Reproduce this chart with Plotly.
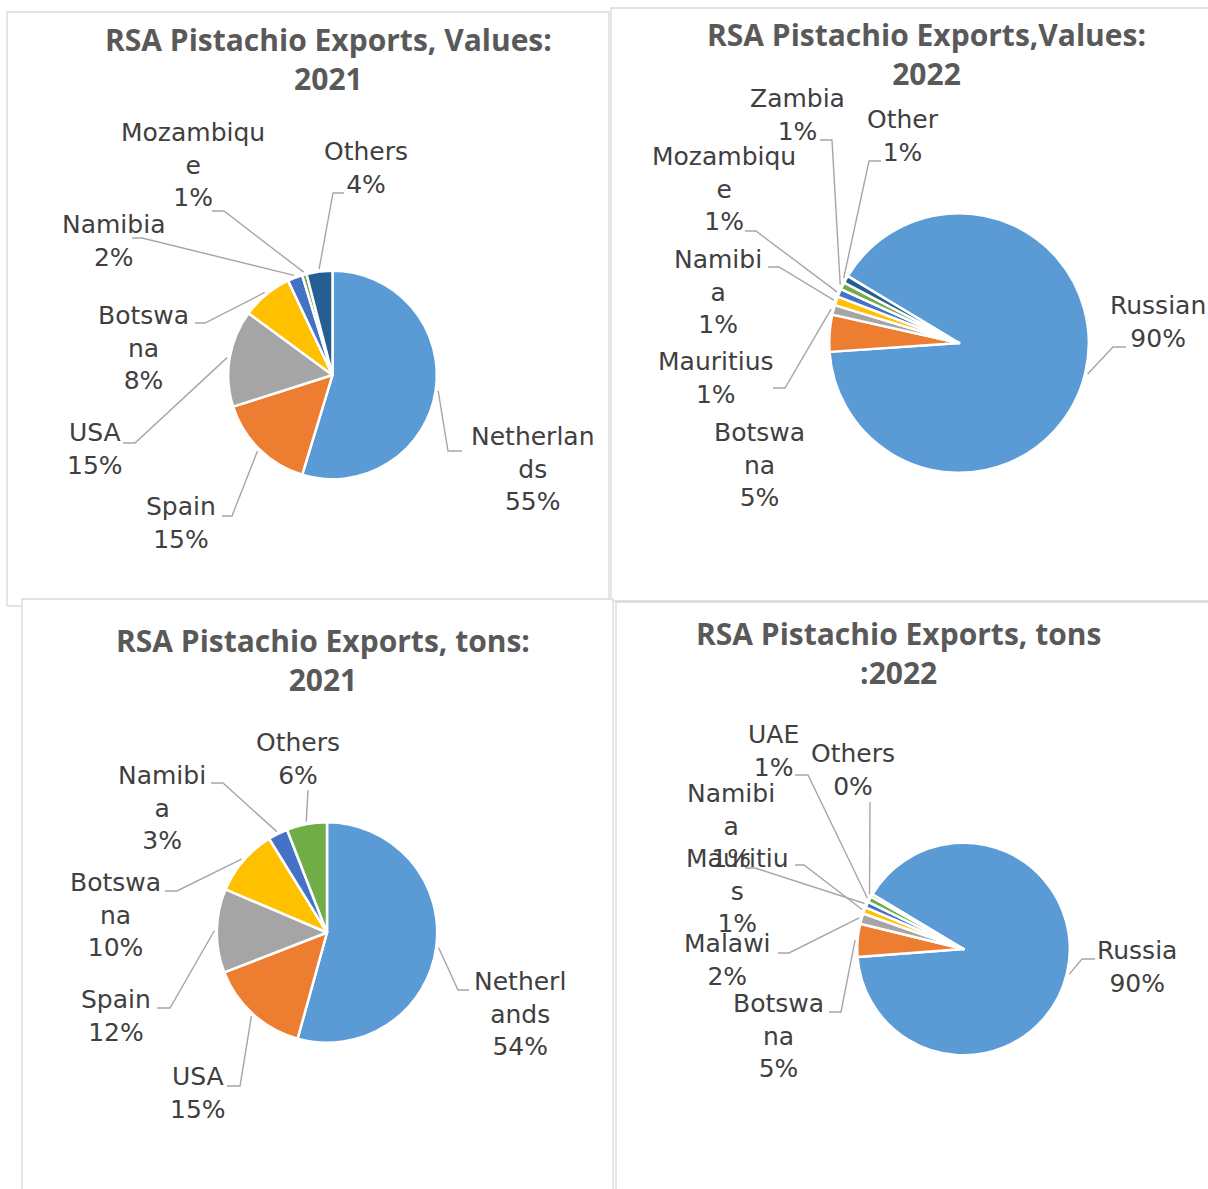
import math
import plotly.graph_objects as go

W, H = 1208, 1189

# Office palette, used in series order
colors = ["#5B9BD5", "#ED7D31", "#A5A5A5", "#FFC000", "#4472C4", "#70AD47", "#255E91"]

# ── data ────────────────────────────────────────────────────────────────────
val21_names = ["Netherlands", "Spain", "USA", "Botswana", "Namibia", "Mozambique", "Others"]
val21_share = [54.7, 15.4, 15.0, 7.9, 2.3, 0.7, 4.0]
val21_text = ["Netherlan<br>ds", "Spain", "USA", "Botswa<br>na", "Namibia", "Mozambiqu<br>e", "Others"]

val22_names = ["Russian", "Botswana", "Mauritius", "Namibia", "Mozambique", "Zambia", "Other"]
val22_share = [90.3, 4.6, 1.2, 1.1, 1.0, 0.9, 0.9]
val22_text = ["Russian", "Botswa<br>na", "Mauritius", "Namibi<br>a", "Mozambiqu<br>e", "Zambia", "Other"]

ton21_names = ["Netherlands", "USA", "Spain", "Botswana", "Namibia", "Others"]
ton21_share = [54.3, 14.8, 12.3, 9.8, 2.9, 5.9]
ton21_text = ["Netherl<br>ands", "USA", "Spain", "Botswa<br>na", "Namibi<br>a", "Others"]

ton22_names = ["Russia", "Botswana", "Malawi", "Mauritius", "Namibia", "UAE", "Others"]
ton22_share = [90.2, 5.0, 1.6, 1.0, 0.9, 0.9, 0.4]
ton22_text = ["Russia", "Botswa<br>na", "Malawi", "Mauritiu<br>s", "Namibi<br>a", "UAE", "Others"]

# ── layout of the four panels (pixels) ──────────────────────────────────────
panels = [
    dict(names=val21_names, share=val21_share, text=val21_text,
         title="RSA Pistachio Exports, Values:<br>2021", title_xy=(328, 59),
         box=(7, 12, 609, 606), center=(332.5, 375), r=104.3, rotation=0,
         label_xy=[(533, 469), (181, 523), (95, 449), (143, 348), (113, 241), (193, 165), (366, 168)],
         leader=[[(462, 451), (448, 451)], [(222, 516), (232, 516)], [(123, 443), (135, 443)],
                 [(195, 323), (205, 323)], [(132, 238), (142, 238)], [(212, 211), (224, 211)],
                 [(344, 193), (333, 193)]]),
    dict(names=val22_names, share=val22_share, text=val22_text,
         title="RSA Pistachio Exports,Values:<br>2022", title_xy=(926, 54),
         box=(611, 8, 1215, 601), center=(959, 343), r=129.8, rotation=301,
         label_xy=[(1158, 322), (759, 465), (716, 378), (718, 292), (724, 189), (797, 115), (903, 136)],
         leader=[[(1126, 347), (1113, 347)], None, [(773, 388), (785, 388)],
                 [(768, 267), (779, 267)], [(745, 231), (756, 231)], [(820, 140), (832, 140)],
                 [(881, 161), (869, 161)]]),
    dict(names=ton21_names, share=ton21_share, text=ton21_text,
         title="RSA Pistachio Exports, tons:<br>2021", title_xy=(323, 660),
         box=(22, 599, 613, 1196), center=(327, 932.5), r=110.2, rotation=0,
         label_xy=[(520, 1014), (198, 1093), (116, 1016), (115, 915), (162, 808), (298, 759)],
         leader=[[(469, 990), (458, 990)], [(227, 1086), (240, 1086)], [(157, 1008), (170, 1008)],
                 [(165, 891), (177, 891)], [(211, 783), (223, 783)], [(308, 790)]]),
    dict(names=ton22_names, share=ton22_share, text=ton22_text,
         title="RSA Pistachio Exports, tons<br>:2022", title_xy=(898, 653),
         box=(616, 602, 1215, 1196), center=(963.5, 949), r=106.3, rotation=301,
         label_xy=[(1137, 967), (778, 1036), (727, 960), (737, 891), (731, 826), (773, 751), (853, 770)],
         leader=[[(1095, 959), (1082, 959)], [(829, 1012), (841, 1012)], [(778, 953), (789, 953)],
                 [(795, 865), (804, 865)], [(745, 868), (755, 868)], [(795, 775), (808, 775)],
                 [(870, 802)]]),
]


def px(x):
    return x / W


def py(y):
    return 1 - y / H


fig = go.Figure()
shapes = []
annotations = []

for p in panels:
    # chart-area frame
    x0, y0, x1, y1 = p["box"]
    shapes.append(dict(type="rect", xref="paper", yref="paper", layer="below",
                       x0=px(x0), x1=px(x1), y0=py(y1), y1=py(y0),
                       fillcolor="white", line=dict(color="#D9D9D9", width=1.3)))

    cx, cy = p["center"]
    r = p["r"]
    fig.add_trace(go.Pie(
        labels=p["names"], values=p["share"],
        sort=False, direction="clockwise", rotation=p["rotation"],
        textinfo="none", hoverinfo="label+percent", showlegend=False,
        marker=dict(colors=colors[:len(p["names"])], line=dict(color="white", width=2.5)),
        domain=dict(x=[px(cx - r), px(cx + r)], y=[py(cy + r), py(cy - r)]),
    ))

    annotations.append(dict(
        text="<b>" + p["title"] + "</b>", x=px(p["title_xy"][0]), y=py(p["title_xy"][1]),
        xref="paper", yref="paper", xanchor="center", yanchor="middle", showarrow=False,
        align="center", font=dict(family="Open Sans", size=30, color="#595959"),
    ))

    total = sum(p["share"])
    cum = 0
    for name_txt, v, (lx, ly), lead in zip(p["text"], p["share"], p["label_xy"], p["leader"]):
        pct = round(v / total * 100)
        annotations.append(dict(
            text=f"{name_txt}<br>{pct}%", x=px(lx), y=py(ly),
            xref="paper", yref="paper", xanchor="center", yanchor="middle", showarrow=False,
            align="center", font=dict(family="DejaVu Sans", size=25, color="#404040"),
        ))
        # slice mid-angle, clockwise from 12 o'clock -> leader line end on the rim
        ang = math.radians(p["rotation"] + 360 * (cum + v / 2) / total)
        cum += v
        if lead is None:
            continue
        ex = cx + (r + 2.5) * math.sin(ang)
        ey = cy - (r + 2.5) * math.cos(ang)
        pts = lead + [(ex, ey)]
        path = "M " + " L ".join(f"{px(a):.5f},{py(b):.5f}" for a, b in pts)
        shapes.append(dict(type="path", xref="paper", yref="paper", layer="above",
                           path=path, line=dict(color="#A6A6A6", width=1.4)))

fig.update_layout(
    width=W, height=H,
    margin=dict(l=0, r=0, t=0, b=0),
    paper_bgcolor="white",
    shapes=shapes,
    annotations=annotations,
)

fig.write_html("out.html", config={"displayModeBar": False},
               post_script="document.body.style.margin='0';")
